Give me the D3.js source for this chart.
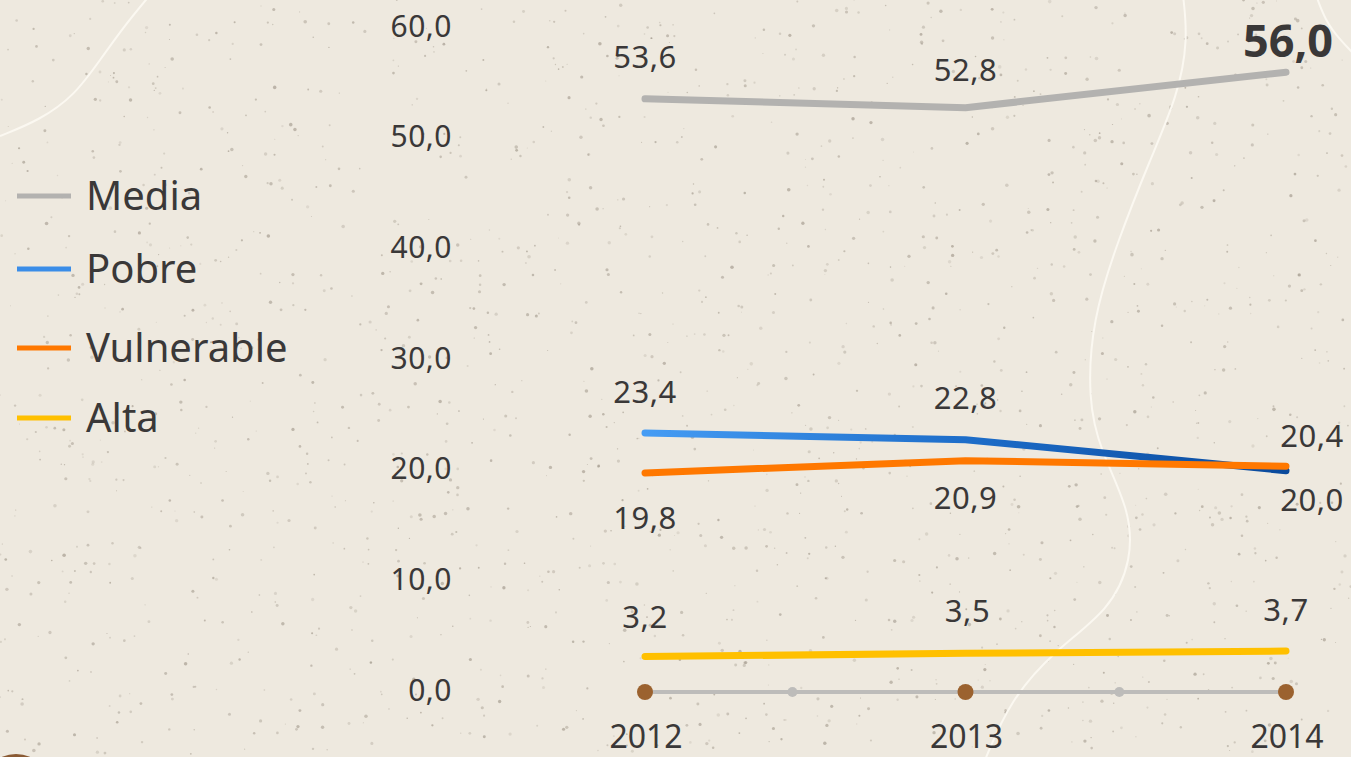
<!DOCTYPE html>
<html>
<head>
<meta charset="utf-8">
<script src="https://cdn.jsdelivr.net/npm/d3@7"></script>
<style>
  html, body { margin: 0; padding: 0; background: #eee9df; overflow: hidden; }
  svg { display: block; }
</style>
</head>
<body>
<div id="chart"></div>
<script>
// data
var years = [2012, 2013, 2014];
var seriesNames = ["Media", "Pobre", "Vulnerable", "Alta"];
var media = [53.6, 52.8, 56.0];
var pobre = [23.4, 22.8, 20.0];
var vulnerable = [19.8, 20.9, 20.4];
var alta = [3.2, 3.5, 3.7];
var yTicks = [0, 10, 20, 30, 40, 50, 60];
var minorTicks = [2012.46, 2013.48];

var W = 1351, H = 757;

var svg = d3.select("#chart")
  .append("svg")
    .attr("width", W)
    .attr("height", H);

var defs = svg.append("defs");

// background
svg.append("rect")
  .attr("width", W).attr("height", H)
  .attr("fill", "#eee9df");

// paper speckles (seeded so it is the same every time)
var seed = 7;
function rnd() { seed = (seed * 16807) % 2147483647; return (seed - 1) / 2147483646; }
var speck = svg.append("g");
for (var i = 0; i < 1700; i++) {
  speck.append("circle")
    .attr("cx", rnd() * W)
    .attr("cy", rnd() * H)
    .attr("r", 0.5 + rnd() * 1.3)
    .attr("fill", "#a0978a")
    .attr("opacity", 0.2 + rnd() * 0.45);
}

// white decorative curves
var curve = d3.line().curve(d3.curveBasis);
var deco = svg.append("g").attr("fill", "none").attr("stroke", "#fbf8f1").attr("stroke-width", 2);
deco.append("path").attr("d", curve([[0, 136], [40, 120], [75, 95], [100, 60], [125, 25], [150, -5]]));
deco.append("path").attr("d", curve([[1183, -5], [1188, 40], [1178, 95], [1150, 160], [1118, 240], [1092, 320],
  [1088, 400], [1100, 450], [1130, 510], [1132, 560], [1110, 610], [1055, 650], [1010, 700], [985, 760]]));
deco.append("path").attr("d", curve([[1316, -5], [1325, 20], [1340, 40], [1355, 55]]));

svg.append("circle")
  .attr("cx", 16).attr("cy", 790).attr("r", 36)
  .attr("fill", "#8a5a33");

// scales
var x = d3.scaleLinear().domain([2012, 2014]).range([645, 1286]);
var y = d3.scaleLinear().domain([0, 60]).range([692, 28]);

var textFont = "'Noto Sans', 'Open Sans', sans-serif";

// y tick labels
svg.append("g")
  .selectAll("text")
  .data(yTicks)
  .enter()
  .append("text")
    .attr("x", 452)
    .attr("y", function(d) { return y(d) - 2; })
    .attr("dy", "0.36em")
    .attr("text-anchor", "end")
    .style("font-family", textFont)
    .style("font-size", "30px")
    .style("letter-spacing", "0.5px")
    .style("fill", "#3a3838")
    .text(function(d) { return d3.format(".1f")(d).replace(".", ","); });

// x axis: line, minor dots, year dots and labels
var axisG = svg.append("g");
axisG.append("line")
  .attr("x1", x(2012)).attr("x2", x(2014))
  .attr("y1", y(0)).attr("y2", y(0))
  .attr("stroke", "#bdbcba")
  .attr("stroke-width", 4);
axisG.selectAll(".minor")
  .data(minorTicks)
  .enter()
  .append("circle")
    .attr("cx", function(d) { return x(d); })
    .attr("cy", y(0))
    .attr("r", 5)
    .attr("fill", "#bdbcba");
axisG.selectAll(".major")
  .data(years)
  .enter()
  .append("circle")
    .attr("cx", function(d) { return x(d); })
    .attr("cy", y(0))
    .attr("r", 8)
    .attr("fill", "#9b622f");
axisG.selectAll(".yearLabel")
  .data(years)
  .enter()
  .append("text")
    .attr("x", function(d) { return x(d) + 1; })
    .attr("y", 748)
    .attr("text-anchor", "middle")
    .style("font-family", textFont)
    .style("font-size", "32px")
    .style("fill", "#3a3838")
    .text(function(d) { return d; });

// gradient for Pobre line
var grad = defs.append("linearGradient")
  .attr("id", "pobreGrad")
  .attr("gradientUnits", "userSpaceOnUse")
  .attr("x1", x(2012)).attr("x2", x(2014))
  .attr("y1", 0).attr("y2", 0);
grad.append("stop").attr("offset", "0").attr("stop-color", "#459cf4");
grad.append("stop").attr("offset", "0.5").attr("stop-color", "#1d6dc9");
grad.append("stop").attr("offset", "1").attr("stop-color", "#0a4a9c");

var colors = {
  "Media": "#b3b2b0",
  "Pobre": "url(#pobreGrad)",
  "Vulnerable": "#ff7800",
  "Alta": "#ffc000"
};
var legendColors = {
  "Media": "#b3b2b0",
  "Pobre": "#3a8de8",
  "Vulnerable": "#ff7800",
  "Alta": "#ffc000"
};
var values = { "Media": media, "Pobre": pobre, "Vulnerable": vulnerable, "Alta": alta };

// label placements (dx, dy from the point, anchor, bold)
var labelPos = {
  "Media": [[0, -31], [0, -27], [47, -15, "end", true]],
  "Pobre": [[0, -30], [0, -31], [26, 40]],
  "Vulnerable": [[0, 56], [0, 48], [26, -19]],
  "Alta": [[0, -29], [2, -31], [0, -30]]
};

var line = d3.line()
  .x(function(d, i) { return x(years[i]); })
  .y(function(d) { return y(d); });

var fmt = function(v) { return d3.format(".1f")(v).replace(".", ","); };

seriesNames.forEach(function(name) {
  svg.append("path")
    .datum(values[name])
    .attr("d", line)
    .attr("fill", "none")
    .attr("stroke", colors[name])
    .attr("stroke-width", 7)
    .attr("stroke-linecap", "round")
    .attr("stroke-linejoin", "round");
});

seriesNames.forEach(function(name) {
  svg.append("g")
    .selectAll("text")
    .data(values[name])
    .enter()
    .append("text")
      .attr("x", function(d, i) { return x(years[i]) + labelPos[name][i][0]; })
      .attr("y", function(d, i) { return y(d) + labelPos[name][i][1]; })
      .attr("text-anchor", function(d, i) { return labelPos[name][i][2] || "middle"; })
      .style("font-family", textFont)
      .style("font-weight", function(d, i) { return labelPos[name][i][3] ? "bold" : "normal"; })
      .style("font-size", function(d, i) { return labelPos[name][i][3] ? "45px" : "31px"; })
      .style("letter-spacing", function(d, i) { return labelPos[name][i][3] ? "0px" : "0.5px"; })
      .style("fill", "#3a3838")
      .text(fmt);
});

// legend
var legendY = [196, 269, 348, 418];
var legend = svg.append("g")
  .selectAll("g")
  .data(seriesNames)
  .enter()
  .append("g")
    .attr("transform", function(d, i) { return "translate(0," + legendY[i] + ")"; });
legend.append("line")
  .attr("x1", 17).attr("x2", 71)
  .attr("stroke", function(d) { return legendColors[d]; })
  .attr("stroke-width", 5);
legend.append("text")
  .attr("x", 86)
  .attr("dy", "0.35em")
  .style("font-family", textFont)
  .style("font-size", "40px")
  .style("fill", "#3a3838")
  .text(function(d) { return d; });
</script>
</body>
</html>
